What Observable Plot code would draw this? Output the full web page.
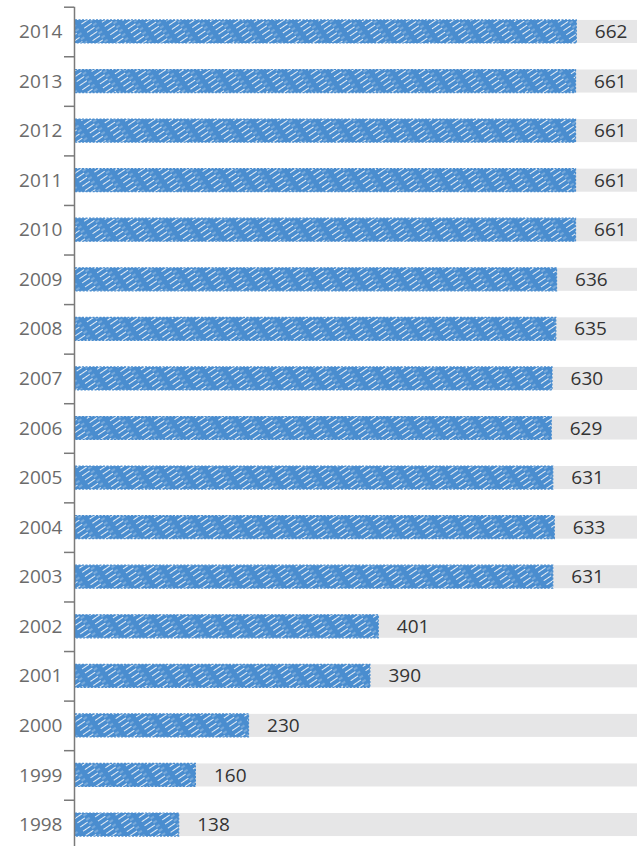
<!DOCTYPE html>
<html>
<head>
<meta charset="utf-8">
<script src="https://cdn.jsdelivr.net/npm/d3@7"></script>
<script src="https://cdn.jsdelivr.net/npm/@observablehq/plot@0.6"></script>
<style>
  html, body { margin: 0; padding: 0; background: #fff; }
  #chart svg { display: block; }
</style>
</head>
<body>
<div id="chart"></div>
<script>
const years = ["2014","2013","2012","2011","2010","2009","2008","2007","2006","2005","2004","2003","2002","2001","2000","1999","1998"];
const values = [662, 661, 661, 661, 661, 636, 635, 630, 629, 631, 633, 631, 401, 390, 230, 160, 138];
const trackMax = 742;

const data = years.map((y, i) => ({year: y, value: values[i], track: trackMax}));

const W = 640, H = 846;
const mTop = 6.7, mBottom = -3.3;
const step = (H - mTop - mBottom) / years.length;

const chart = Plot.plot({
  width: W,
  height: H,
  marginLeft: 74,
  marginRight: 3,
  marginTop: mTop,
  marginBottom: mBottom,
  style: {fontFamily: "'Open Sans', sans-serif", fontSize: "19px", background: "#fff"},
  x: {domain: [0, trackMax], axis: null},
  y: {domain: years, paddingInner: 0.535, paddingOuter: 0.2675, round: false, label: null},
  marks: [
    Plot.barX(data, {y: "year", x: "track", fill: "#e6e6e7"}),
    Plot.barX(data, {y: "year", x: "value", fill: "url(#hatch)", insetLeft: 1}),
    Plot.barX(data, {y: "year", x: "value", fill: "none", stroke: "#4a8dcf", strokeWidth: 1.2, strokeDasharray: "2 1.5", insetLeft: 1}),
    Plot.text(data, {y: "year", x: "value", text: d => String(d.value), textAnchor: "start", dx: 18, fill: "#333", fontSize: 19}),
    Plot.axisY({tickSize: 0, tickPadding: 12, fill: "#6b6b6b", fontSize: 19, label: null}),
    Plot.ruleY(years, {y: d => d, dy: -step / 2, x1: 0, x2: 0, insetLeft: -10, stroke: "#7a7a7a", strokeWidth: 1.5}),
    Plot.ruleX([0], {stroke: "#7a7a7a", strokeWidth: 1.5})
  ]
});

// hand-drawn style hatch pattern
const ns = "http://www.w3.org/2000/svg";
const defs = document.createElementNS(ns, "defs");
defs.innerHTML = `
  <pattern id="hatch" patternUnits="userSpaceOnUse" width="18" height="5" patternTransform="rotate(-34)">
    <rect width="18" height="5" fill="#4a8dcf"></rect>
    <line x1="0" y1="0.5" x2="18" y2="0.5" stroke="#e8eef5" stroke-width="1" stroke-dasharray="9 9"></line>
    <line x1="0" y1="3" x2="18" y2="3" stroke="#dfe7f0" stroke-width="0.6" stroke-dasharray="4 14" stroke-dashoffset="9"></line>
  </pattern>`;
chart.insertBefore(defs, chart.firstChild);

document.getElementById("chart").appendChild(chart);
</script>
</body>
</html>
